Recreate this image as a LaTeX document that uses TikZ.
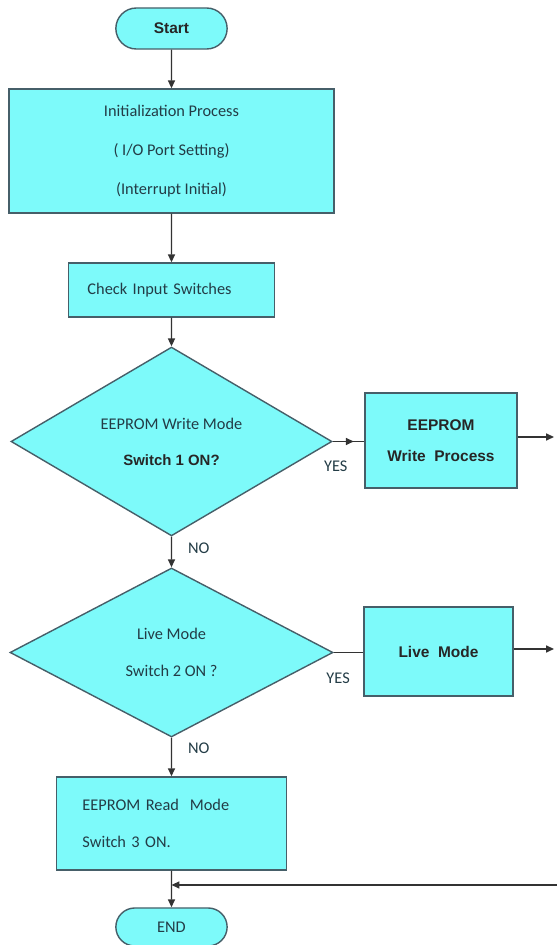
\documentclass[tikz,border=0pt]{standalone}
\usepackage{fontspec}
\setmainfont{Carlito}
\newfontfamily\arialfont{Liberation Sans}
\usepackage{tkz-euclide}
\usetikzlibrary{shapes.geometric,shapes.misc,arrows.meta}
\definecolor{boxfill}{RGB}{125,250,250}
\definecolor{boxline}{RGB}{70,95,105}
\definecolor{txtcol}{RGB}{35,60,70}

\begin{document}
\begin{tikzpicture}[scale=0.2,
	flow/.style={draw=boxline,fill=boxfill,line width=0.8pt,text=txtcol,font=\fontsize{9.3}{20}\selectfont,align=center},
	term/.style={flow,rounded rectangle,minimum width=2.46cm,minimum height=0.82cm},
	proc/.style={flow,rectangle,inner sep=0pt},
	test/.style={flow,diamond,inner sep=0pt},
	boldtxt/.style={font=\arialfont\bfseries\fontsize{8.8}{17.6}\selectfont,text=black!85},
	arr/.style={line width=0.8pt,draw=black!80,-{Triangle[length=4.5pt,width=4pt]}},
	lin/.style={line width=0.8pt,draw=black!80},
	lab/.style={text=txtcol,font=\fontsize{9.3}{11}\selectfont}]
	\useasboundingbox (0,0) rectangle (55.7,-94.5);
	\tkzDefPoints{17.15/-2.85/S,17.15/-15.1/I,17.15/-29.0/C}
	\tkzDefPoints{17.15/-44.15/D1,44.1/-44.05/W,17.15/-65.25/D2,43.85/-65.15/L}
	\tkzDefPoints{17.15/-82.35/R,17.15/-92.7/E}
	\tkzDefPoints{55.4/-43.7/W1,55.4/-64.9/L1,55.7/-88.5/R1}
%%%%%%%%%%%%%%%%%%%%%%%%%%%%%%%%%%%%%%%%%%%%%%%%%%%%%%%%%%%%
	\node[term,boldtxt] (start) at (S) {Start};
	\node[proc,minimum width=6.5cm,minimum height=2.48cm,font=\fontsize{9.3}{22}\selectfont] (init) at (I) {Initialization Process\\( I/O Port Setting)\\(Interrupt Initial)};
	\node[proc,minimum width=4.12cm,minimum height=1.08cm,text width=3.36cm,inner xsep=0.38cm,align=left] (check) at (C) {Check Input Switches};
	\node[test,minimum width=6.42cm,minimum height=3.42cm,font=\fontsize{9.3}{20.4}\selectfont] (dia1) at (D1) {EEPROM Write Mode\\{\arialfont\bfseries\fontsize{8.5}{20.4}\selectfont\color{black!85}Switch 1 ON?}};
	\node[proc,boldtxt,minimum width=3.04cm,minimum height=1.9cm] (wbox) at (W) {EEPROM\\Write~~Process};
	\node[test,minimum width=6.46cm,minimum height=3.38cm,font=\fontsize{9.3}{21.5}\selectfont] (dia2) at (D2) {Live Mode\\Switch 2 ON ?};
	\node[proc,boldtxt,minimum width=2.98cm,minimum height=1.78cm] (lbox) at (L) {Live~~Mode};
	\node[proc,minimum width=4.6cm,minimum height=1.86cm,text width=3.56cm,inner xsep=0.52cm,align=left,font=\fontsize{9.3}{21.5}\selectfont] (rbox) at (R) {EEPROM Read~~Mode\\Switch 3 ON.};
	\node[term,minimum height=0.76cm] (endn) at (E) {END};
%%%%%%%%%%%%%%%%%%%%%%%%%%%%%%%%%%%%%%%%%%%%%%%%%%%%%%%%%%%%
	\draw[arr] (start) -- (init);
	\draw[arr] (init) -- (check);
	\draw[arr] (check) -- (dia1);
	\draw[lin] (dia1.east) -- node[lab,pos=0.1,below=0.25cm] (yes1) {YES} (dia1.east -| wbox.west);
	\draw[arr,shorten >=6pt] (dia1.east) -- (dia1.east -| wbox.west);
	\draw[arr] (wbox.east |- W1) -- (W1);
	\draw[arr] (dia1) -- node[lab,right=0.2cm,pos=0.37] (no1) {NO} (dia2);
	\draw[lin] (dia2.east) -- node[lab,pos=0.15,below=0.28cm] (yes2) {YES} (dia2.east -| lbox.west);
	\draw[arr] (lbox.east |- L1) -- (L1);
	\draw[arr] (dia2) -- node[lab,right=0.2cm,pos=0.28] (no2) {NO} (rbox);
	\draw[arr] (rbox) -- (endn);
	\draw[arr] (R1) -- (R1 -| rbox.south);
\end{tikzpicture}
\end{document}
